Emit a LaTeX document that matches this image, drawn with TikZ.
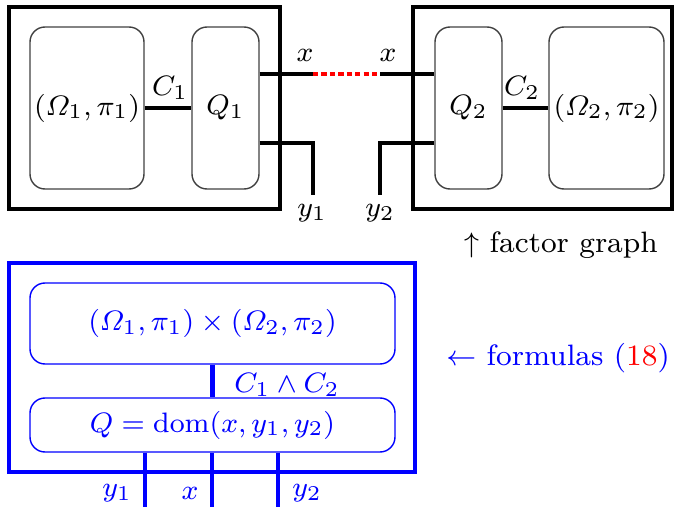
\documentclass[tikz,border=0pt]{standalone}
\usepackage{amsmath}
\usepackage{tikz}
\usetikzlibrary{positioning,calc}

\begin{document}
\begin{tikzpicture}[
            font=\fontsize{8.4}{10}\selectfont,
            frame/.style={
                draw,
                line width=1pt,
                minimum height=2.02cm
            },
            block/.style={
                draw=black!75,
                line width=0.4pt,
                inner sep=0pt,
                rounded corners=0.15cm,
                minimum height=1.62cm
            },
            wire/.style={
                line width=1.3pt
            },
            link/.style={
                red,
                line width=1.3pt,
                dash pattern=on 1.5pt off 0.9pt
            },
            bframe/.style={
                draw=blue,
                line width=1pt
            },
            bblock/.style={
                draw=blue,
                line width=0.4pt,
                inner sep=0pt,
                rounded corners=0.15cm,
                minimum width=3.65cm,
                text=blue
            },
            bwire/.style={
                blue,
                line width=1.3pt
            }
        ]

            % Picture size
            \useasboundingbox (0,0) rectangle (6.78,-5.11);

            % Layout parameters
            \def\yRow{-1.08}
            \def\xWireL{3.13}
            \def\xWireR{3.80}

            % --- Factor graph (top) ---
            \node[frame, minimum width=2.71cm] (box1) at (1.445,\yRow) {};
            \node[frame, minimum width=2.59cm] (box2) at (5.425,\yRow) {};

            \node[block, minimum width=1.14cm] (om1) at (0.87,\yRow) {$(\varOmega_1,\pi_1)$};
            \node[block, minimum width=0.67cm] (q1) at (2.255,\yRow) {$Q_1$};
            \node[block, minimum width=0.67cm] (q2) at (4.685,\yRow) {$Q_2$};
            \node[block, minimum width=1.15cm] (om2) at (6.065,\yRow) {$(\varOmega_2,\pi_2)$};

            % constraints between space and query
            \draw[wire] (om1) -- (q1);
            \draw[wire] (q2) -- (om2);
            \node (c1) at (1.70,-0.88) {$C_1$};
            \node (c2) at (5.22,-0.88) {$C_2$};

            % shared variable x
            \coordinate (xl) at (\xWireL,-0.74);
            \coordinate (xr) at (\xWireR,-0.74);
            \draw[wire] (q1.east |- xl) -- (xl);
            \draw[link] (xl) -- (xr);
            \draw[wire] (xr) -- (q2.west |- xr);
            \node (xlab1) at (3.05,-0.55) {$x$};
            \node (xlab2) at (3.88,-0.55) {$x$};

            % outputs y1, y2
            \coordinate (ya) at (\xWireL,-1.43);
            \coordinate (yb) at (\xWireR,-1.43);
            \coordinate (yaend) at (\xWireL,-1.95);
            \coordinate (ybend) at (\xWireR,-1.95);
            \draw[wire] (q1.east |- ya) -- (ya) -- (yaend);
            \draw[wire] (q2.west |- yb) -- (yb) -- (ybend);
            \node (ylab1) at (3.12,-2.13) {$y_1$};
            \node (ylab2) at (3.80,-2.13) {$y_2$};

            \node (fg) at (5.61,-2.45) {$\uparrow$ factor graph};

            % --- Formulas (bottom) ---
            \node[bframe, minimum width=4.06cm, minimum height=2.09cm] (bbox) at (2.12,-3.675) {};
            \node[bblock, minimum height=0.81cm] (prod) at (2.125,-3.235) {$(\varOmega_1,\pi_1)\times(\varOmega_2,\pi_2)$};
            \node[bblock, minimum height=0.54cm] (qdom) at (2.125,-4.25) {$Q=\mathrm{dom}(x,y_1,y_2)$};

            \draw[bwire] (prod.south) -- (qdom.north);
            \node[text=blue, anchor=west] (cc) at (2.22,-3.85) {$C_1\wedge C_2$};

            % bottom wires
            \foreach[count=\i] \xw/\xl/\lab in {1.45/1.17/y_1, 2.12/1.90/x, 2.78/3.07/y_2} {
                \coordinate (w\i) at (\xw,-5.07);
                \draw[bwire] (qdom.south -| w\i) -- (w\i);
                \node[text=blue] (blab\i) at (\xl,-4.93) {$\lab$};
            }

            \node[text=blue] (fm) at (5.58,-3.58) {$\leftarrow$ formulas ({\color{red}18})};

        \end{tikzpicture}
\end{document}
